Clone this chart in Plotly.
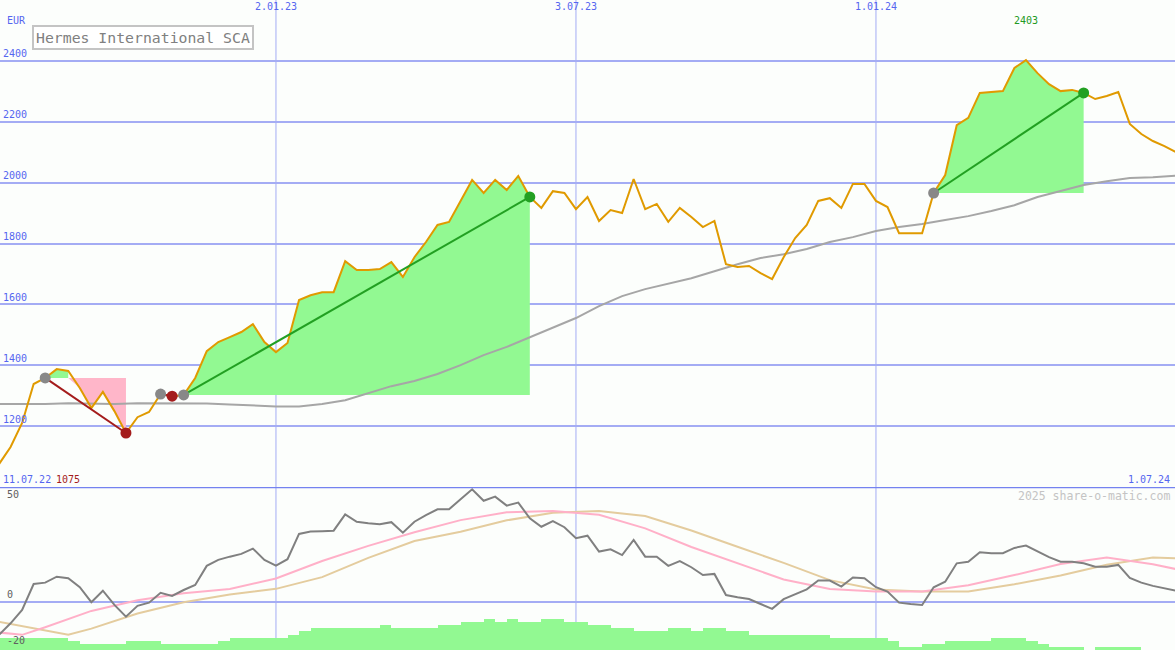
import pandas as pd
import plotly.graph_objects as go

# ---------------- data ----------------
weeks = pd.date_range("2022-07-18", periods=103, freq="7D")

price = [1075, 1131, 1210, 1338, 1358, 1387, 1381, 1325, 1259, 1312,
         1249, 1177, 1229, 1246, 1305, 1298, 1302, 1358, 1446, 1476,
         1492, 1509, 1535, 1476, 1443, 1473, 1614, 1630, 1640, 1640,
         1742, 1713, 1713, 1716, 1739, 1690, 1755, 1805, 1861, 1871,
         1940, 2009, 1966, 2009, 1976, 2022, 1953, 1917, 1972, 1966,
         1913, 1953, 1874, 1910, 1900, 2012, 1913, 1930, 1871, 1917,
         1887, 1854, 1874, 1732, 1723, 1726, 1703, 1683, 1755, 1818,
         1861, 1940, 1949, 1917, 1996, 1996, 1940, 1920, 1834, 1834,
         1834, 1966, 2025, 2189, 2213, 2295, 2298, 2301, 2377, 2403,
         2360, 2324, 2301, 2305, 2295, 2275, 2285, 2298, 2193, 2160,
         2137, 2120, 2100]

# long moving average, read every second week (week index 1,3,5,...)
ma_values = [1272, 1272, 1272, 1275, 1274, 1272, 1275, 1275, 1275, 1274,
             1271, 1267, 1264, 1264, 1272, 1285, 1308, 1331, 1348, 1371,
             1400, 1433, 1460, 1492, 1522, 1555, 1594, 1627, 1650, 1667,
             1686, 1709, 1732, 1752, 1765, 1782, 1805, 1821, 1841, 1854,
             1864, 1877, 1890, 1907, 1926, 1953, 1972, 1992, 2005, 2015,
             2018, 2023]

osc = [-14.3, -9.3, -3.5, 7.8, 8.4, 11.0, 10.3, 6.4, -0.1, 4.9,
       -1.3, -6.4, -1.7, -0.3, 4.0, 2.6, 5.2, 7.4, 15.7, 18.3,
       19.7, 20.9, 23.2, 18.3, 15.8, 18.6, 29.6, 30.6, 30.8, 31.0,
       38.1, 34.9, 34.2, 33.8, 34.7, 30.1, 34.9, 37.8, 40.3, 40.3,
       44.7, 49.0, 44.0, 45.8, 41.9, 43.2, 36.4, 32.7, 35.2, 32.5,
       27.7, 28.8, 21.9, 22.9, 20.4, 27.0, 19.7, 19.7, 15.7, 17.8,
       15.1, 11.7, 12.2, 3.0, 2.0, 1.3, -0.9, -3.0, 1.2, 3.5,
       5.5, 9.3, 9.3, 6.7, 10.6, 10.3, 6.4, 4.5, -0.3, -0.9,
       -1.3, 6.4, 8.8, 16.8, 17.5, 21.6, 21.2, 21.2, 23.5, 24.5,
       22.0, 19.5, 17.5, 17.5, 16.8, 15.3, 15.3, 16.1, 10.5, 8.4,
       7.0, 6.0, 4.9]

pink_idx = [1, 3, 5, 9, 13, 17, 21, 25, 29, 33, 37, 41, 45, 49, 53, 57,
            61, 65, 69, 73, 77, 81, 85, 89, 93, 97, 101, 103]
pink_vals = [-13.3, -14.3, -11.0, -3.9, 0.7, 3.8, 5.6, 10.2, 17.8, 24.4,
             30.3, 35.6, 39.0, 39.6, 37.9, 32.0, 23.9, 16.8, 9.8, 5.6,
             4.6, 4.5, 7.3, 11.7, 16.5, 19.3, 16.4, 14.3]

tan_idx = [1, 4, 7, 9, 13, 17, 21, 25, 29, 33, 37, 41, 45, 49, 53, 57,
           61, 65, 69, 73, 77, 81, 85, 89, 93, 97, 101, 103]
tan_vals = [-8.6, -11.4, -14.3, -11.6, -5.0, -0.1, 3.2, 5.7, 10.8, 19.2,
            26.5, 30.5, 35.5, 38.8, 39.6, 37.4, 31.1, 24.0, 17.0, 9.5,
            5.4, 4.5, 4.5, 7.7, 11.5, 16.2, 19.3, 19.0]

bars = ([-15.5] * 6 + [-17.0] + [-18.3] * 4 + [-17.0] * 3 + [-18.3] * 5 +
        [-17.0] + [-15.5] * 5 + [-14.3] + [-12.6] + [-11.2] * 6 + [-10.0] +
        [-11.2] * 4 + [-10.0] * 2 + [-8.6] * 2 + [-7.4] + [-8.6] + [-7.4] +
        [-8.6] * 2 + [-7.4] * 2 + [-8.6] * 2 + [-10.0] * 2 + [-11.2] * 2 +
        [-12.6] * 3 + [-11.2] * 2 + [-12.6] + [-11.2] * 2 + [-12.6] * 2 +
        [-14.3] * 7 + [-15.5] * 5 + [-17.0] + [-19.4] * 2 + [-18.3] * 2 +
        [-17.0] * 4 + [-15.5] * 3 + [-17.0] + [-18.3] + [-19.4] * 3 +
        [None] + [-19.4] * 4 + [None] * 4)

# trend segments: (start week index, end week index, kind)
trends = [(5, 12, "down"), (15, 16, "down"), (17, 47, "up"), (82, 95, "up")]

y_ticks = [1200, 1400, 1600, 1800, 2000, 2200, 2400]
x_ticks = ["2023-01-02", "2023-07-03", "2024-01-01"]
x_ticktext = ["2.01.23", "3.07.23", "1.01.24"]
title = "Hermes International SCA"
max_label, min_label = "2403", "1075"
first_label, last_label = "11.07.22", "1.07.24"

# ---------------- styles ----------------
BG = "#fcfefc"
GRID = "#a4acf4"
SEP = "#7482f0"
BLUE_TXT = "#5566f0"
ORANGE = "#e09a00"
FILL_G = "#92f992"
FILL_P = "#ffb6c9"
GREEN = "#22a022"
RED = "#a41c1c"
GREYM = "#888888"
MONO = "DejaVu Sans Mono"
BASE = -20.9
WEEK_MS = 7 * 24 * 3600 * 1000


def wk(i):
    return weeks[i - 1]


fig = go.Figure()

# ---- lower panel ----
fig.add_trace(go.Bar(x=list(weeks), y=[None if v is None else v - BASE for v in bars],
                     base=BASE, width=WEEK_MS, offset=0,
                     marker=dict(color=FILL_G, line=dict(width=0)),
                     xaxis="x", yaxis="y2", hoverinfo="skip"))
fig.add_trace(go.Scatter(x=[wk(i) for i in tan_idx], y=tan_vals, mode="lines",
                         line=dict(color="#e4cc9e", width=2), xaxis="x", yaxis="y2"))
fig.add_trace(go.Scatter(x=[wk(i) for i in pink_idx], y=pink_vals, mode="lines",
                         line=dict(color="#ffb0c8", width=2), xaxis="x", yaxis="y2"))
fig.add_trace(go.Scatter(x=list(weeks), y=osc, mode="lines",
                         line=dict(color="#808080", width=2), xaxis="x", yaxis="y2"))

# ---- trend fills ----
for s, e, kind in trends:
    level = price[s - 1]
    xs = [wk(i) for i in range(s, e + 1)]
    ps = price[s - 1:e]
    if kind == "up":
        fig.add_trace(go.Scatter(x=xs + [wk(e), wk(s)], y=ps + [level, level],
                                 fill="toself", fillcolor=FILL_G, mode="none",
                                 xaxis="x", yaxis="y", hoverinfo="skip"))
    else:
        # green part while price stays above the start level, pink afterwards
        j = s
        while j + 1 <= e and price[j] >= level:
            j += 1
        if j > s:
            gx = [wk(i) for i in range(s, j + 1)]
            gy = price[s - 1:j]
            fig.add_trace(go.Scatter(x=gx + [wk(j), wk(s)], y=gy + [level, level],
                                     fill="toself", fillcolor=FILL_G, mode="none",
                                     xaxis="x", yaxis="y", hoverinfo="skip"))
        px_ = [wk(i) for i in range(j + 1, e + 1)]
        py_ = price[j:e]
        fig.add_trace(go.Scatter(x=[wk(j)] + px_ + [wk(e)], y=[level] + py_ + [level],
                                 fill="toself", fillcolor=FILL_P, mode="none",
                                 xaxis="x", yaxis="y", hoverinfo="skip"))

# ---- moving average & price ----
fig.add_trace(go.Scatter(x=list(weeks[0::2]), y=ma_values, mode="lines",
                         line=dict(color="#a6a6a6", width=2), xaxis="x", yaxis="y"))
fig.add_trace(go.Scatter(x=list(weeks), y=price, mode="lines",
                         line=dict(color=ORANGE, width=2), xaxis="x", yaxis="y"))

# ---- trend lines & markers ----
for s, e, kind in trends:
    col = GREEN if kind == "up" else RED
    fig.add_trace(go.Scatter(x=[wk(s), wk(e)], y=[price[s - 1], price[e - 1]], mode="lines",
                             line=dict(color=col, width=2), xaxis="x", yaxis="y"))
for s, e, kind in trends:
    col = GREEN if kind == "up" else RED
    fig.add_trace(go.Scatter(x=[wk(s), wk(e)], y=[price[s - 1], price[e - 1]], mode="markers",
                             marker=dict(color=[GREYM, col], size=11, line=dict(width=0)),
                             xaxis="x", yaxis="y"))

# ---- shapes ----
shapes = []
for d in x_ticks:
    shapes.append(dict(type="line", xref="x", yref="paper", x0=d, x1=d, y0=0, y1=1,
                       line=dict(color=GRID, width=1), layer="below"))
shapes.append(dict(type="line", xref="paper", yref="y2", x0=0, x1=1, y0=0, y1=0,
                   line=dict(color=GRID, width=2), layer="below"))
shapes.append(dict(type="line", xref="paper", yref="y2", x0=0, x1=1, y0=50, y1=50,
                   line=dict(color=SEP, width=2.5), layer="above"))

ann = []
ann.append(dict(text="EUR", xref="paper", yref="paper", x=5 / 1175, y=1 - 20 / 650,
                xanchor="left", yanchor="middle", showarrow=False,
                font=dict(family=MONO, size=10, color=BLUE_TXT)))
ann.append(dict(text=title, xref="paper", yref="paper", x=32 / 1175, y=1 - 25 / 650,
                xanchor="left", yanchor="top", showarrow=False,
                font=dict(family=MONO, size=14.8, color="#808080"),
                bordercolor="#c4c4c4", borderwidth=2, borderpad=2, bgcolor="#ffffff"))
ann.append(dict(text=max_label, xref="x", yref="paper", x=wk(90), y=1 - 20 / 650,
                xanchor="center", yanchor="middle", showarrow=False,
                font=dict(family=MONO, size=10, color="#229922")))
ann.append(dict(text=first_label, xref="paper", yref="paper", x=1 / 1175, y=1 - 479 / 650,
                xanchor="left", yanchor="middle", showarrow=False,
                font=dict(family=MONO, size=10, color=BLUE_TXT)))
ann.append(dict(text=min_label, xref="paper", yref="paper", x=54 / 1175, y=1 - 479 / 650,
                xanchor="left", yanchor="middle", showarrow=False,
                font=dict(family=MONO, size=10, color=RED)))
ann.append(dict(text=last_label, xref="paper", yref="paper", x=1172 / 1175, y=1 - 479 / 650,
                xanchor="right", yanchor="middle", showarrow=False,
                font=dict(family=MONO, size=10, color=BLUE_TXT)))
ann.append(dict(text="2025 share-o-matic.com", xref="paper", yref="paper",
                x=1172 / 1175, y=1 - 496 / 650, xanchor="right", yanchor="middle",
                showarrow=False, font=dict(family=MONO, size=11.5, color="#c4c4c4")))
for val, anchor in [(50, "top"), (0, "bottom"), (-20, "bottom")]:
    ann.append(dict(text=str(val), xref="paper", yref="y2", x=5 / 1175, y=val,
                    xanchor="left", yanchor=anchor, showarrow=False, yshift=0,
                    font=dict(family=MONO, size=10, color="#606060")))

fig.update_layout(
    width=1175, height=650, margin=dict(l=0, r=0, t=0, b=0),
    paper_bgcolor=BG, plot_bgcolor=BG, showlegend=False, bargap=0,
    shapes=shapes, annotations=ann,
    xaxis=dict(type="date", range=["2022-07-18 14:00", "2024-06-30 10:00"],
               side="top", anchor="y", tickvals=x_ticks, ticktext=x_ticktext,
               ticklabelposition="inside", ticks="", showgrid=False, zeroline=False,
               showline=False, tickfont=dict(family=MONO, size=10, color=BLUE_TXT)),
    yaxis=dict(domain=[1 - 487 / 650, 1], range=[999.5, 2600.5], tickvals=y_ticks,
               ticklabelposition="inside top", ticks="", showgrid=True, gridcolor=GRID,
               gridwidth=2, zeroline=False, showline=False,
               tickfont=dict(family=MONO, size=10, color=BLUE_TXT)),
    yaxis2=dict(domain=[0, 1 - 487 / 650], range=[BASE, 50], anchor="x",
                showticklabels=False, showgrid=False, zeroline=False, showline=False),
)

fig.write_html("out.html", config={"displayModeBar": False},
               post_script="document.body.style.margin='0';document.body.style.overflow='hidden';")
